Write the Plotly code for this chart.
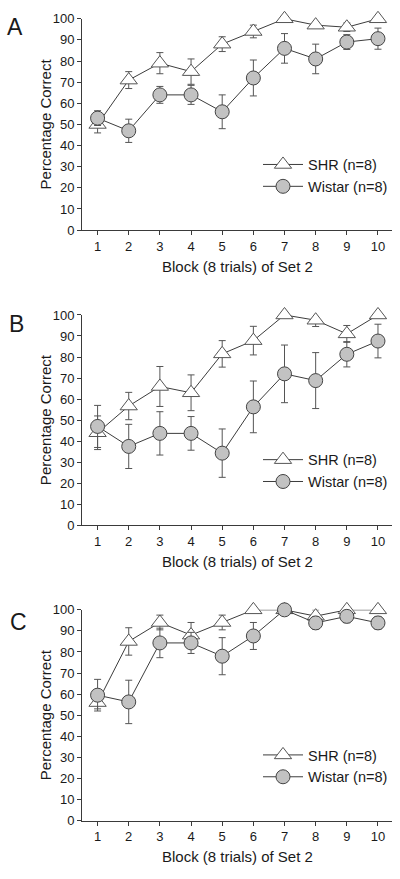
import plotly.graph_objects as go

blocks = [1, 2, 3, 4, 5, 6, 7, 8, 9, 10]
tick_vals_y = [0, 10, 20, 30, 40, 50, 60, 70, 80, 90, 100]

shr_a = [50, 71, 79, 75, 88, 94, 100, 97, 96, 100]
shr_a_err = [4, 4, 5, 6, 3.5, 3, 0, 0, 2, 0]
wis_a = [53, 47, 64, 64, 56, 72, 86, 81, 89, 90.6]
wis_a_err = [3.5, 5.5, 4, 4.5, 8, 8.5, 7, 7, 3.5, 5]

shr_b = [44, 56.7, 66, 63, 81.5, 87.8, 100, 97.5, 91, 100]
shr_b_err = [8, 6.5, 9.5, 8.5, 6.3, 6.8, 0, 3, 4, 0]
wis_b = [47, 37.5, 43.7, 43.7, 34.3, 56.3, 72, 68.8, 81.3, 87.6]
wis_b_err = [10, 10.5, 10.3, 8, 11.5, 12.3, 13.7, 13.3, 6, 8]

shr_c = [56, 85, 94, 88, 94, 100, 100, 97, 100, 100]
shr_c_err = [3, 6.5, 3.5, 6, 3.5, 0, 0, 3, 0, 0]
wis_c = [59.5, 56.3, 84.3, 84.3, 78, 87.6, 100, 93.8, 96.9, 93.8]
wis_c_err = [7.5, 10.3, 7, 5, 8.8, 6.4, 0, 3, 3, 3]

panels = [
    ("A", shr_a, shr_a_err, wis_a, wis_a_err),
    ("B", shr_b, shr_b_err, wis_b, wis_b_err),
    ("C", shr_c, shr_c_err, wis_c, wis_c_err),
]

W, H = 400, 879
# pixel positions of axis bottom (y=0) and top (y=100) for each panel
y_bottoms = [227, 527.3, 827.7]
y_tops = [12, 313.3, 613.3]
letter_dy = [8, 9, 12]
letter_x = [15, 16.5, 18]

AX = "#3a3a3a"
FONT = "Liberation Sans, Arial, sans-serif"

fig = go.Figure()
layout = dict(
    width=W, height=H,
    margin=dict(l=0, r=0, t=0, b=0),
    paper_bgcolor="white", plot_bgcolor="white",
    font=dict(family=FONT, color="#1a1a1a", size=13),
    annotations=[],
)

for i, (letter, shr, shr_err, wis, wis_err) in enumerate(panels):
    n = "" if i == 0 else str(i + 1)
    xa, ya = "x" + n, "y" + n
    leg = "legend" + n
    fig.add_trace(go.Scatter(
        x=blocks, y=shr, xaxis=xa, yaxis=ya, name="SHR (n=8)",
        mode="lines+markers", legend=leg, cliponaxis=False,
        line=dict(color="#3c3c3c", width=1),
        marker=dict(symbol="triangle-up", size=15, color="white",
                    line=dict(color="#555555", width=1)),
        error_y=dict(type="data", array=shr_err, visible=True,
                     color="#555555", thickness=1, width=3.5),
    ))
    fig.add_trace(go.Scatter(
        x=blocks, y=wis, xaxis=xa, yaxis=ya, name="Wistar (n=8)",
        mode="lines+markers", legend=leg, cliponaxis=False,
        line=dict(color="#3c3c3c", width=1),
        marker=dict(symbol="circle", size=14, color="#c2c2c2",
                    line=dict(color="#444444", width=1)),
        error_y=dict(type="data", array=wis_err, visible=True,
                     color="#555555", thickness=1, width=3.5),
    ))
    yb, yt = y_bottoms[i], y_tops[i]
    layout["xaxis" + n] = dict(
        domain=[82 / W, 392 / W], range=[0.5, 10.45], anchor=ya,
        tickvals=blocks, ticks="outside", ticklen=4, tickcolor=AX,
        showline=True, linecolor=AX, linewidth=1, showgrid=False,
        zeroline=False, tickfont=dict(size=13), fixedrange=True,
    )
    layout["yaxis" + n] = dict(
        domain=[1 - yb / H, 1 - yt / H], range=[0, 100], anchor=xa,
        tickvals=tick_vals_y, ticks="outside", ticklen=4, tickcolor=AX,
        showline=True, linecolor=AX, linewidth=1, showgrid=False,
        zeroline=False, tickfont=dict(size=13), fixedrange=True,
    )
    layout[leg] = dict(
        x=258 / W, y=1 - (yb - 83) / H, xanchor="left", yanchor="top",
        bgcolor="rgba(0,0,0,0)", font=dict(size=14.5, color="#1a1a1a"),
        itemwidth=40,
    )
    layout["annotations"] += [
        dict(text=letter, x=letter_x[i] / W, y=1 - (yt + letter_dy[i]) / H,
             xref="paper", yref="paper", showarrow=False,
             font=dict(size=23, color="#1a1a1a"), xanchor="center", yanchor="middle"),
        dict(text="Percentage Correct", x=45 / W, y=1 - ((yb + yt) / 2) / H,
             xref="paper", yref="paper", showarrow=False, textangle=-90,
             font=dict(size=15), xanchor="center", yanchor="middle"),
        dict(text="Block (8 trials) of Set 2", x=237 / W, y=1 - (yb + 37) / H,
             xref="paper", yref="paper", showarrow=False,
             font=dict(size=15), xanchor="center", yanchor="middle"),
    ]

fig.update_layout(**layout)
fig.write_html("out.html", config={"displayModeBar": False},
               post_script="document.body.style.margin='0';document.body.style.overflow='hidden';")
